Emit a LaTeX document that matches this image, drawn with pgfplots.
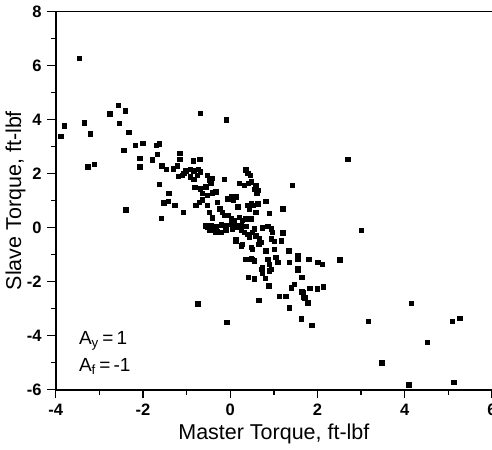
\documentclass[border=0pt]{standalone}
\usepackage{pgfplots}
\pgfplotsset{compat=1.18}
\usepackage{fontspec}
\setmainfont{Liberation Sans}

\pgfplotstableread{
x y
-3.46 6.26
-3.80 3.77
-3.88 3.37
-3.35 3.88
-3.21 3.47
-3.26 2.25
-3.11 2.35
-2.76 4.20
-2.57 4.53
-2.40 4.32
-2.54 3.85
-2.33 3.52
-2.44 2.85
-2.17 3.05
-2.00 3.11
-2.07 2.56
-2.07 2.24
-2.39 0.66
-1.78 2.50
-1.70 3.05
-1.62 3.10
-1.67 2.72
-1.57 2.28
-1.47 2.15
-1.62 1.60
-1.41 1.26
-1.52 0.92
-1.42 0.97
-1.27 0.82
-1.07 0.57
-1.58 0.34
-1.31 2.18
-1.16 2.53
-1.16 2.75
-1.19 1.90
-1.10 1.94
-1.02 2.10
-0.85 2.47
-0.70 2.53
-0.68 4.22
-0.09 3.98
-1.21 2.28
-1.06 2.00
-0.91 2.15
-0.83 2.10
-0.73 2.15
-0.68 2.06
-0.91 1.88
-0.83 1.78
-0.75 1.94
-0.52 1.94
-0.48 1.75
-0.44 1.65
-0.41 1.82
-0.14 1.78
0.36 2.13
0.40 2.00
0.21 1.63
0.32 1.57
0.42 1.63
0.48 1.69
0.59 1.57
0.63 1.38
-0.81 1.48
-0.68 1.44
-0.56 1.50
-0.64 1.26
-0.52 1.19
-0.41 1.28
-0.33 1.32
-0.79 0.82
-0.71 0.94
-0.64 1.03
-0.52 0.82
-0.48 0.57
-0.41 0.36
-0.29 0.94
-0.24 0.70
-0.18 0.57
-0.12 0.45
-0.06 1.07
0.02 1.16
0.07 1.01
0.13 1.13
0.17 0.76
0.40 0.82
0.48 0.88
0.44 0.70
0.63 0.88
0.59 0.57
-0.06 0.45
0.02 0.32
0.09 0.26
0.21 0.38
0.28 0.26
0.36 0.32
-0.44 0.08
-0.33 0.05
-0.21 0.10
0.13 0.06
0.25 0.09
0.36 0.04
2.69 2.53
1.42 1.56
0.55 1.41
0.61 1.28
0.46 1.94
0.82 0.98
0.53 0.82
1.21 0.70
0.90 0.53
0.48 0.32
0.74 -0.01
0.86 0.04
0.94 -0.05
0.97 -0.18
1.21 -0.19
0.55 -0.05
0.51 -0.18
0.59 -0.30
0.67 -0.42
0.71 -0.55
0.94 -0.42
1.01 -0.51
1.17 -0.49
0.82 -0.86
1.01 -0.80
1.34 -0.86
3.00 -0.10
0.51 -1.17
0.55 -1.23
0.86 -1.17
0.90 -1.35
1.05 -1.11
1.09 -1.29
1.36 -1.29
1.55 -1.04
1.55 -1.17
1.80 -1.17
2.01 -1.29
2.11 -1.35
2.51 -1.19
0.74 -1.48
0.94 -1.54
1.55 -1.50
-0.52 0.01
-0.44 -0.11
-0.33 -0.15
-0.21 -0.18
-0.10 0.07
0.02 0.14
0.05 -0.05
0.17 0.01
0.25 -0.11
0.32 -0.18
0.40 -0.24
0.44 -0.36
0.13 -0.49
0.25 -0.67
0.28 -0.61
0.48 -0.73
0.51 -0.80
0.65 -0.62
0.36 -1.17
0.48 -1.15
0.71 -1.54
0.73 -1.67
0.90 -1.60
0.42 -1.85
0.55 -1.89
0.81 -1.88
0.88 -2.16
1.40 -2.23
1.47 -2.10
1.67 -2.39
1.71 -2.60
1.78 -2.79
1.13 -2.54
1.27 -2.54
0.65 -2.69
-0.74 -2.82
1.36 -2.97
-0.56 0.07
-0.48 -0.11
-0.29 -0.14
-0.10 -0.09
0.13 -0.45
-0.08 -3.51
1.55 -1.57
1.64 -1.85
1.64 -2.38
1.82 -2.25
1.99 -2.26
2.13 -2.19
1.68 -2.57
1.63 -3.38
1.87 -3.62
3.17 -3.47
4.15 -2.80
5.09 -3.46
5.26 -3.35
4.52 -4.24
3.47 -5.01
4.09 -5.81
5.13 -5.72
}\torque

\begin{document}
\begin{tikzpicture}[trim axis right]
\begin{axis}[
    scale only axis,
    width=264pt, height=229pt,
    xmin=-4, xmax=6, ymin=-6, ymax=8,
    axis x line=box, axis y line=left,
    axis line style={-, line width=1pt},
    xtick={-4,-2,...,6}, ytick={-6,-4,...,8},
    minor x tick num=1, minor y tick num=1,
    xtick pos=bottom, ytick pos=left,
    tick align=outside,
    major tick length=5pt, minor tick length=3pt,
    tick style={line width=0.8pt, black},
    ticklabel style={font=\fontsize{10}{12}\selectfont\bfseries},
    /pgf/number format/assume math mode=true,
    xlabel={Master Torque, ft-lbf},
    ylabel={Slave Torque, ft-lbf},
    label style={font=\fontsize{13}{15}\selectfont},
    xlabel style={yshift=2pt},
    ylabel style={yshift=-6pt},
    clip=false,
]
\addplot[only marks, mark=square*, mark size=1.35pt, black] table[x=x, y=y] {\torque};
\node[anchor=west, font=\fontsize{11.5}{13}\selectfont] at (axis cs:-3.6,-4.2) {A$_{\mathrm{y}}$\,=\,1};
\node[anchor=west, font=\fontsize{11.5}{13}\selectfont] at (axis cs:-3.6,-5.15) {A$_{\mathrm{f}}$\,=\,-1};
\end{axis}
\end{tikzpicture}
\end{document}
